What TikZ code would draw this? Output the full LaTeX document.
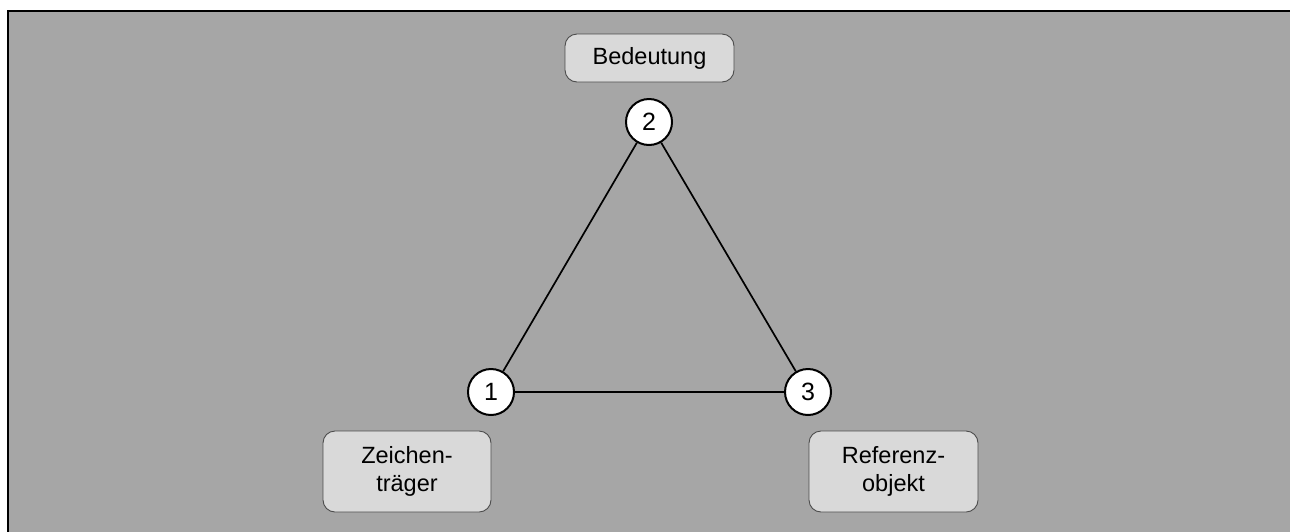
\documentclass[tikz,border=0pt]{standalone}
\usepackage{fontspec}
\setmainfont{Liberation Sans}
\begin{document}
\begin{tikzpicture}[x=1pt,y=-1pt,
  labelbox/.style={draw=black!70, line width=0.9pt, fill=black!15, rounded corners=12pt,
    inner sep=0pt, align=center, font=\fontsize{23.5}{28}\selectfont},
  numcircle/.style={circle, draw=black, line width=2pt, fill=white, minimum size=46pt,
    inner sep=0pt, font=\fontsize{25}{28}\selectfont},
  edge/.style={draw=black, line width=1.7pt}]
  \useasboundingbox (0,0) rectangle (1290,531);
  % frame
  \draw[fill=black!35, line width=2pt] (7.5,10.5) rectangle (1300,540);
  % vertices
  \node[numcircle] (n2) at (649,122) {2};
  \node[numcircle] (n1) at (491,392) {1};
  \node[numcircle] (n3) at (808,392) {3};
  % triangle sides
  \draw[edge] (n1) -- (n2);
  \draw[edge] (n2) -- (n3);
  \draw[edge] (n1) -- (n3);
  % labels
  \node[labelbox, minimum width=169pt, minimum height=48pt] (bed) at (649.5,58) {Bedeutung};
  \node[labelbox, minimum width=168pt, minimum height=81pt] (zt) at (407,471.5) {Zeichen-\\träger};
  \node[labelbox, minimum width=169pt, minimum height=81pt] (ro) at (893.5,471.5) {Referenz-\\objekt};
\end{tikzpicture}
\end{document}
